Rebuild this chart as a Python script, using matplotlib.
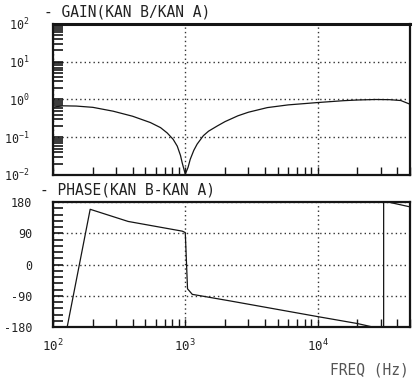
import numpy as np
import matplotlib
matplotlib.use("Agg")
import matplotlib.pyplot as plt
from matplotlib.ticker import LogLocator, FixedLocator, NullFormatter, MultipleLocator

# ---- data ----
gain_freq = [100, 120, 150, 200, 285, 400, 545, 650, 730, 810, 870, 920, 948, 1000,
             1050, 1090, 1160, 1230, 1370, 1500, 1750, 2000, 2190, 2500, 3000, 4170,
             6000, 10000, 15700, 20000, 27500, 35000, 42600, 50000]
gain_val = [0.63, 0.68, 0.67, 0.62, 0.49, 0.36, 0.245, 0.18, 0.13, 0.088, 0.058,
            0.033, 0.021, 0.0105, 0.016, 0.026, 0.045, 0.066, 0.11, 0.145, 0.20,
            0.26, 0.30, 0.37, 0.46, 0.61, 0.72, 0.83, 0.93, 0.97, 1.0, 0.99, 0.94, 0.75]

phase_freq = [128, 191, 370, 950, 1000, 1040, 1130, 1300, 2190, 10000, 20000,
              26100, 31600, 31600, 35000, 50000]
phase_val = [-180, 159, 124, 96, 92, -70, -86, -90, -105, -150, -170,
             -180, -180, 180, 179, 166]

gain_ticks = [1e-2, 1e-1, 1e0, 1e1, 1e2]
gain_labels = [r'$\mathregular{10^{-2}}$', r'$\mathregular{10^{-1}}$', r'$\mathregular{10^{0}}$',
               r'$\mathregular{10^{1}}$', r'$\mathregular{10^{2}}$']
phase_ticks = [-180, -90, 0, 90, 180]
phase_labels = ['-180', '-90', '0', '90', '180']
freq_ticks = [1e2, 1e3, 1e4]
freq_labels = [r'$\mathregular{10^{2}}$', r'$\mathregular{10^{3}}$', r'$\mathregular{10^{4}}$']

plt.rcParams['font.family'] = ['DejaVu Sans Mono', 'DejaVu Sans']
plt.rcParams['mathtext.fontset'] = 'custom'
plt.rcParams['mathtext.rm'] = 'DejaVu Sans Mono'
plt.rcParams['mathtext.it'] = 'DejaVu Sans Mono'
plt.rcParams['mathtext.bf'] = 'DejaVu Sans Mono'

W, H = 418, 381
fig = plt.figure(figsize=(W / 100, H / 100), dpi=100)
fig.patch.set_facecolor('white')

def frac(x0, y0, x1, y1):
    return [x0 / W, 1 - y1 / H, (x1 - x0) / W, (y1 - y0) / H]

ink = '#151515'
txt = '#222222'
ax1 = fig.add_axes(frac(53, 24, 410, 175))
ax2 = fig.add_axes(frac(53, 202, 410, 327))

xmin, xmax = 100, 50000
for ax in (ax1, ax2):
    ax.set_xscale('log')
    ax.set_xlim(xmin, xmax)
    for s in ax.spines.values():
        s.set_linewidth(1.6)
        s.set_color(ink)
    ax.xaxis.set_major_locator(FixedLocator(freq_ticks))
    ax.xaxis.set_minor_locator(LogLocator(base=10, subs=np.arange(2, 10), numticks=20))
    ax.xaxis.set_minor_formatter(NullFormatter())
    ax.tick_params(axis='x', which='both', direction='in', length=6, width=1.0,
                   color=ink, top=False, bottom=True)
    ax.tick_params(axis='y', which='both', direction='in', length=7, width=1.2,
                   color=ink, right=False, left=True)
    ax.grid(True, which='major', axis='both', linestyle=(0, (1, 2.2)),
            linewidth=1.0, color='#333333')

# gain panel
ax1.set_yscale('log')
ax1.set_ylim(1e-2, 1e2)
ax1.plot(gain_freq, gain_val, color=ink, linewidth=0.9)
ax1.set_yticks(gain_ticks)
ax1.set_yticklabels(gain_labels)
ax1.yaxis.set_minor_locator(LogLocator(base=10, subs=np.arange(2, 10), numticks=20))
ax1.yaxis.set_minor_formatter(NullFormatter())
ax1.tick_params(axis='y', which='major', pad=17, labelsize=8.5, labelcolor=txt)
ax1.set_xticklabels([])
ax1.spines['top'].set_linewidth(2.2)

# phase panel
ax2.set_ylim(-180, 180)
ax2.plot(phase_freq, phase_val, color=ink, linewidth=0.9)
ax2.set_yticks(phase_ticks)
ax2.set_yticklabels(phase_labels)
ax2.yaxis.set_minor_locator(MultipleLocator(18))
ax2.tick_params(axis='y', which='major', pad=15, labelsize=8.5, labelcolor=txt)
ax2.set_xticklabels(freq_labels)
ax2.tick_params(axis='x', which='major', pad=8, labelsize=9, labelcolor=txt)

fig.text(44 / W, 1 - 12 / H, '- GAIN(KAN B/KAN A)', fontsize=10.5, color=txt,
         ha='left', va='center')
fig.text(40 / W, 1 - 190 / H, '- PHASE(KAN B-KAN A)', fontsize=10.5, color=txt,
         ha='left', va='center')
fig.text(409 / W, 1 - 370 / H, 'FREQ (Hz)', fontsize=10.5, color='#555555',
         ha='right', va='center')

fig.savefig('out.png', dpi=100, facecolor='white')
